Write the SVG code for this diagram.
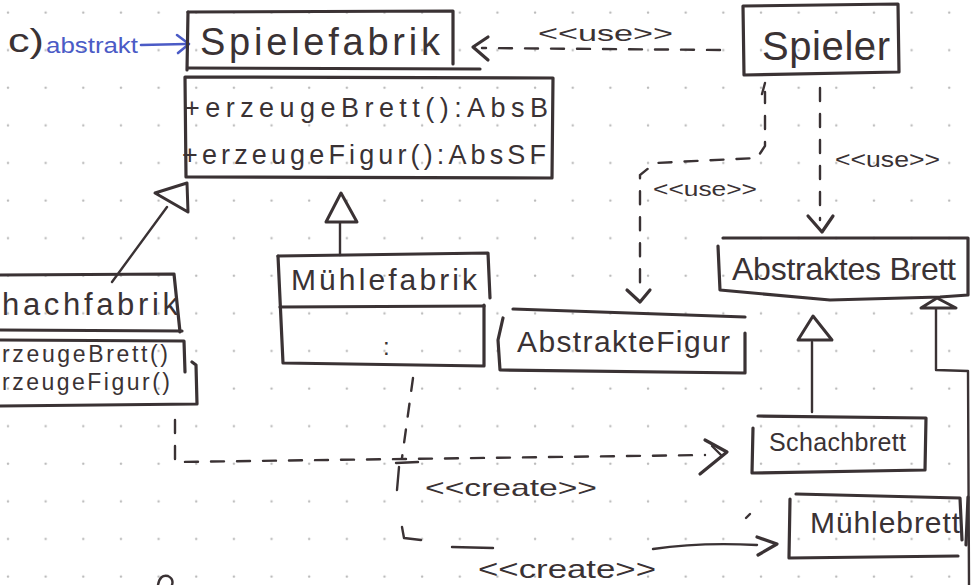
<svg xmlns="http://www.w3.org/2000/svg" width="971" height="585" viewBox="0 0 971 585">
  <defs>
    <!-- dotted notebook paper -->
    <pattern id="dots" x="0" y="0" width="37.65" height="37.6" patternUnits="userSpaceOnUse">
      <circle cx="8" cy="12.5" r="1.2" fill="#b9b9b9"/>
    </pattern>
    <style>
      .ink { fill: none; stroke: #3a3234; stroke-width: 3.2; stroke-linecap: round; stroke-linejoin: round; }
      .thin { fill: none; stroke: #3a3234; stroke-width: 2.4; stroke-linecap: round; stroke-linejoin: round; }
      .dash { fill: none; stroke: #3a3234; stroke-width: 2.4; stroke-linecap: round; stroke-dasharray: 13 13; }
      .tri { fill: #ffffff; stroke: #3a3234; stroke-width: 3; stroke-linejoin: round; }
      .t { fill: #3a3234; font-family: "Liberation Sans", "DejaVu Sans", sans-serif; }
      .blue { fill: #4b5bc6; font-family: "Liberation Sans", "DejaVu Sans", sans-serif; }
    </style>
  </defs>

  <rect width="971" height="585" fill="#ffffff"/>
  <rect width="971" height="585" fill="url(#dots)"/>

  <!-- annotation: c) abstrakt -> -->
  <g id="note">
    <text class="t" x="8" y="52" font-size="34" textLength="36" lengthAdjust="spacingAndGlyphs">c)</text>
    <text class="blue" x="46" y="53" font-size="22" textLength="92" lengthAdjust="spacingAndGlyphs">abstrakt</text>
    <path d="M141,45 L186,44" fill="none" stroke="#4b5bc6" stroke-width="2.6" stroke-linecap="round"/>
    <path d="M177,35 L189,44 L178,53" fill="none" stroke="#4b5bc6" stroke-width="2.6" stroke-linecap="round" stroke-linejoin="round"/>
  </g>

  <!-- abstract factory -->
  <g id="spielefabrik">
    <path class="ink" d="M188,12 L453,11 L453,64"/>
    <path class="ink" d="M188,12 L187,70"/>
    <path class="ink" d="M188,68 L480,69"/>
    <path class="ink" d="M185,77 L553,78 L552,178 L186,177 Z"/>
    <text class="t" x="200" y="55" font-size="38" textLength="240" lengthAdjust="spacing">Spielefabrik</text>
    <text class="t" x="184" y="117" font-size="27" textLength="364" lengthAdjust="spacing">+erzeugeBrett():AbsB</text>
    <text class="t" x="182" y="164" font-size="27" textLength="364" lengthAdjust="spacing">+erzeugeFigur():AbsSF</text>
  </g>

  <g id="spieler">
    <path class="ink" d="M743,6 L898,4 L899,72 L744,75 Z"/>
    <text class="t" x="762" y="60" font-size="40" textLength="128" lengthAdjust="spacing">Spieler</text>
  </g>

  <!-- concrete factory, running past the left page edge -->
  <g id="schachfabrik">
    <path class="ink" d="M0,275 L174,274 L180,332"/>
    <path class="ink" d="M0,330 L182,331"/>
    <path class="ink" d="M0,340 L184,341 L185,372"/>
    <path class="ink" d="M192,362 L196,365 L197,404 L0,406"/>
    <text class="t" x="2" y="315" font-size="31" textLength="176" lengthAdjust="spacing">hachfabrik</text>
    <text class="t" x="2" y="362" font-size="23" textLength="166" lengthAdjust="spacing">rzeugeBrett()</text>
    <text class="t" x="2" y="390" font-size="23" textLength="168" lengthAdjust="spacing">rzeugeFigur()</text>
  </g>

  <g id="muehlefabrik">
    <path class="ink" d="M278,256 L488,253 L490,298"/>
    <path class="ink" d="M278,256 L283,363 L484,366 L484,305"/>
    <path class="ink" d="M280,307 L484,306"/>
    <text class="t" x="291" y="290" font-size="30" textLength="186" lengthAdjust="spacing">Mühlefabrik</text>
    <text class="t" x="383" y="355" font-size="24">:</text>
  </g>

  <g id="abstraktesBrett">
    <path class="ink" d="M723,238 L968,238 L968,295 L940,297 L830,300 L720,290 L718,246"/>
    <text class="t" x="732" y="280" font-size="32" textLength="224" lengthAdjust="spacing">Abstraktes Brett</text>
  </g>

  <g id="abstrakteFigur">
    <path class="ink" d="M513,309 L745,317"/>
    <path class="ink" d="M503,318 L498,340 L500,370 L745,373 L745,333"/>
    <text class="t" x="517" y="352" font-size="30" textLength="213" lengthAdjust="spacing">AbstrakteFigur</text>
  </g>

  <g id="schachbrett">
    <path class="ink" d="M758,416 L926,418 L925,470 L752,473 L753,428"/>
    <text class="t" x="769" y="451" font-size="25" textLength="137" lengthAdjust="spacing">Schachbrett</text>
  </g>

  <g id="muehlebrett">
    <path class="ink" d="M796,494 L960,498 L962,540"/>
    <path class="ink" d="M790,499 L789,558 L958,556"/>
    <path class="ink" d="M968,497 L966,545"/>
    <text class="t" x="810" y="533" font-size="30" textLength="150" lengthAdjust="spacing">Mühlebrett</text>
  </g>

  <g id="connectors">
    <!-- generalizations -->
    <path class="thin" d="M112,282 L167,207"/>
    <path class="tri" d="M187,183 L188,212 L155,193 Z"/>
    <path class="thin" d="M340,223 L340,255"/>
    <path class="tri" d="M341,193 L357,222 L326,222 Z"/>
    <path class="thin" d="M812,342 L812,412"/>
    <path class="tri" d="M813,316 L832,340 L798,340 Z"/>
    <path class="thin" d="M936,307 L936,370 L968,371 L969,585"/>
    <path class="tri" d="M937,298 L956,308 L921,308 Z"/>

    <!-- Spieler uses Spielefabrik -->
    <path class="dash" d="M720,50 L482,48"/>
    <path class="ink" d="M488,37 L473,47 L488,60"/>
    <text class="t" x="538" y="41" font-size="22" textLength="135" lengthAdjust="spacingAndGlyphs">&lt;&lt;use&gt;&gt;</text>

    <!-- Spieler uses AbstrakteFigur -->
    <path class="thin" d="M762,94 L765,83"/>
    <path class="dash" d="M765,92 L765,146 L757,158 L655,163 L640,175 L640,292" stroke-dashoffset="2"/>
    <path class="ink" d="M627,290 L640,302 L650,290"/>
    <text class="t" x="653" y="196" font-size="20" textLength="104" lengthAdjust="spacingAndGlyphs">&lt;&lt;use&gt;&gt;</text>

    <!-- Spieler uses Abstraktes Brett -->
    <path class="dash" d="M820,88 L820,220"/>
    <path class="ink" d="M808,216 L822,232 L833,216"/>
    <text class="t" x="835" y="167" font-size="22" textLength="105" lengthAdjust="spacingAndGlyphs">&lt;&lt;use&gt;&gt;</text>

    <!-- Schachfabrik creates Schachbrett -->
    <path class="dash" d="M175,420 L175,462 L705,455"/>
    <path class="ink" d="M705,440 L727,452 L700,474"/>
    <path class="thin" d="M712,446 L722,456"/>
    <text class="t" x="425" y="496" font-size="24" textLength="172" lengthAdjust="spacingAndGlyphs">&lt;&lt;create&gt;&gt;</text>

    <!-- Muehlefabrik creates Muehlebrett -->
    <path class="dash" d="M413,378 L402,458"/>
    <path class="thin" d="M396,463 L418,462"/>
    <path class="thin" d="M399,467 L397,490"/>
    <path class="thin" d="M402,527 L404,538 L421,540"/>
    <path class="thin" d="M452,547 L493,548"/>
    <path class="thin" d="M653,549 Q700,542 757,545"/>
    <path class="ink" d="M757,537 L777,544 L758,555"/>
    <path class="thin" d="M746,518 L750,514"/>
    <text class="t" x="478" y="578" font-size="26" textLength="178" lengthAdjust="spacingAndGlyphs">&lt;&lt;create&gt;&gt;</text>
  </g>

  <!-- pen mark at the lower page edge -->
  <path class="thin" d="M158,585 Q160,574 168,576 Q174,579 172,585"/>
</svg>
